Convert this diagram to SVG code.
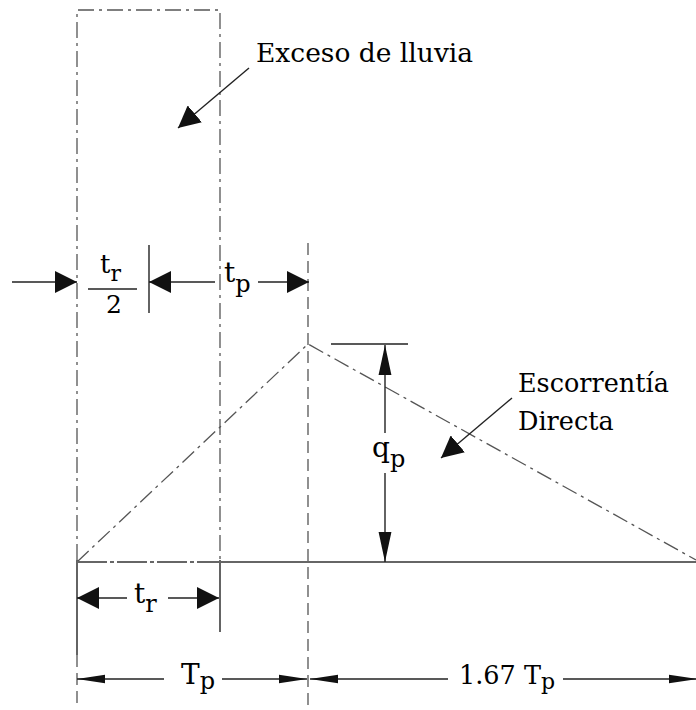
<svg xmlns="http://www.w3.org/2000/svg" width="696" height="710" viewBox="0 0 696 710">
<style>
text{font-family:'DejaVu Serif',serif;fill:#000}
.dd{fill:none;stroke:#555;stroke-width:1.3;stroke-dasharray:16 5 3 5}
.dsh{fill:none;stroke:#555;stroke-width:1.3;stroke-dasharray:12 6}
.sol{fill:none;stroke:#222;stroke-width:1.4}
.base{fill:none;stroke:#666;stroke-width:2}
</style>
<defs>
<marker id="mBig" markerUnits="userSpaceOnUse" markerWidth="22" markerHeight="22" refX="20" refY="10" orient="auto-start-reverse" viewBox="0 0 20 20"><path d="M0,0 L20,10 L0,20 z" fill="#111"/></marker>
<marker id="mThin" markerUnits="userSpaceOnUse" markerWidth="28" markerHeight="10" refX="26" refY="4" orient="auto-start-reverse" viewBox="0 0 26 8"><path d="M0,0 L26,4 L0,8 z" fill="#111"/></marker>
<marker id="mQ" markerUnits="userSpaceOnUse" markerWidth="30" markerHeight="14" refX="28" refY="6" orient="auto-start-reverse" viewBox="0 0 28 12"><path d="M0,0 L28,6 L0,12 z" fill="#111"/></marker>
</defs>
<rect width="696" height="710" fill="#fff"/>

<g id="rain-excess-block">
<path class="dd" d="M77,560 V10 H220 V560"/>
</g>

<g id="reference-lines">
<path class="dsh" d="M77,655 V705"/>
<path class="sol" d="M77,560 V655"/>
<path class="sol" d="M220,560 V632"/>
<path class="sol" d="M149,245 V313"/>
<path class="dsh" d="M308,243 V705"/>
<path class="sol" d="M331,344 H408"/>
</g>

<g id="hydrograph">
<path class="dd" d="M77,562 L308,344 L696,560"/>
<path class="base" d="M77,562 H220" stroke-dasharray="30 3 4 3"/>
<path class="base" d="M220,562 H696"/>
</g>

<g id="connectors">
<path class="sol" d="M12,282 H77" marker-end="url(#mBig)"/>
<path class="sol" d="M149,282 H215" marker-start="url(#mBig)"/>
<path class="sol" d="M258,282 H309" marker-end="url(#mBig)"/>
<path class="sol" d="M77,598 H127" marker-start="url(#mBig)"/>
<path class="sol" d="M168,598 H219" marker-end="url(#mBig)"/>
<path class="sol" d="M77,679 H164" marker-start="url(#mThin)"/>
<path class="sol" d="M222,679 H307" marker-end="url(#mThin)"/>
<path class="sol" d="M310,679 H448" marker-start="url(#mThin)"/>
<path class="sol" d="M563,679 H697" marker-end="url(#mThin)"/>
<path class="sol" d="M385,345 V433" marker-start="url(#mQ)"/>
<path class="sol" d="M385,473 V562" marker-end="url(#mQ)"/>
<path class="sol" d="M249,68 L178,128" marker-end="url(#mBig)"/>
<path class="sol" d="M512,398 L441,458" marker-end="url(#mBig)"/>
</g>

<g id="label-exceso">
<text x="256" y="62" font-size="26.5">Exceso de lluvia</text>
</g>
<g id="label-escorrentia">
<text x="518" y="392" font-size="25.5">Escorrentía</text>
<text x="518" y="430" font-size="25.5">Directa</text>
</g>
<g id="label-tr-half">
<text x="100" y="273" font-size="26">t<tspan font-size="22" dy="8">r</tspan></text>
<path class="sol" d="M88,289 H137"/>
<text x="114" y="313" font-size="25" text-anchor="middle">2</text>
</g>
<g id="label-tp">
<text x="224" y="282" font-size="28">t<tspan font-size="24" dy="10">p</tspan></text>
</g>
<g id="label-qp">
<text x="372" y="457" font-size="28">q<tspan font-size="24" dy="10">p</tspan></text>
</g>
<g id="label-tr">
<text x="134" y="603" font-size="28">t<tspan font-size="24" dy="9">r</tspan></text>
</g>
<g id="label-Tp">
<text x="181" y="684" font-size="28">T<tspan font-size="24" dy="5">p</tspan></text>
</g>
<g id="label-167Tp">
<text x="459" y="684" font-size="25.5">1.67 T<tspan font-size="22" dy="5">p</tspan></text>
</g>
</svg>
